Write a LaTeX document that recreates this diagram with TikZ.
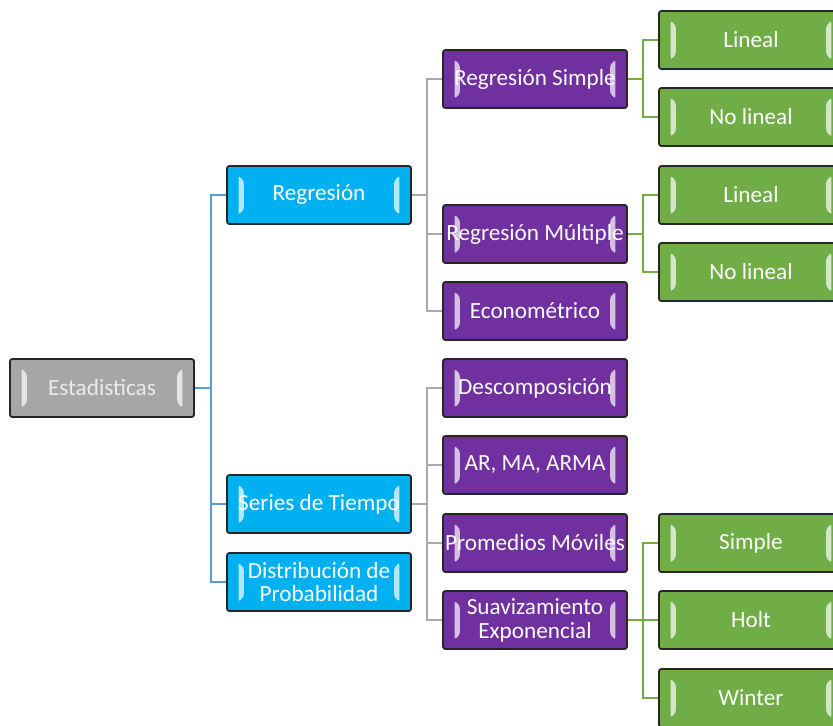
\documentclass[tikz,border=0pt]{standalone}
\usepackage{fontspec}
\setmainfont{Carlito}
\definecolor{rootgray}{RGB}{166,166,166}
\definecolor{catblue}{RGB}{0,176,240}
\definecolor{methpurple}{RGB}{112,48,160}
\definecolor{leafgreen}{RGB}{112,173,71}
\definecolor{linkblue}{RGB}{91,155,213}
\definecolor{linkgray}{RGB}{170,170,170}
\tikzset{
  box/.style={draw=black!85, line width=0.45mm, rounded corners=0.6mm,
    minimum width=46mm, minimum height=14.5mm, inner sep=0pt,
    align=center, text=white, font=\fontsize{16.5}{17}\selectfont,
    path picture={
      \fill[white, opacity=0.7]
        ([shift={(2.9mm,-2.4mm)}]path picture bounding box.north west)
        -- ++(1.3mm,-1.3mm)
        -- ([shift={(4.2mm,3.6mm)}]path picture bounding box.south west)
        -- ++(-1.3mm,-1.3mm) -- cycle;
      \fill[white, opacity=0.7]
        ([shift={(-2.9mm,-2.4mm)}]path picture bounding box.north east)
        -- ++(-1.3mm,-1.3mm)
        -- ([shift={(-4.2mm,3.6mm)}]path picture bounding box.south east)
        -- ++(1.3mm,-1.3mm) -- cycle;
    }},
  rootbox/.style={box, fill=rootgray, text=white!92!black},
  catbox/.style={box, fill=catblue},
  methbox/.style={box, fill=methpurple},
  leafbox/.style={box, fill=leafgreen},
  link/.style={line width=0.65mm},
}
\begin{document}
\begin{tikzpicture}[x=0.25mm,y=-0.25mm]
  \clip (0,0) rectangle (833,725);
  \path
    (102,388) node[rootbox] (est) {Estadisticas}
    (319,195) node[catbox] (reg) {Regresión}
    (319,504) node[catbox] (ser) {Series de Tiempo}
    (319,582) node[catbox] (dis) {Distribución de\\Probabilidad}
    (535,79) node[methbox] (rs) {Regresión Simple}
    (535,234) node[methbox] (rm) {Regresión Múltiple}
    (535,311) node[methbox] (eco) {Econométrico}
    (535,388) node[methbox] (des) {Descomposición}
    (535,465) node[methbox] (arma) {AR, MA, ARMA}
    (535,543) node[methbox] (pm) {Promedios Móviles}
    (535,620) node[methbox] (sua) {Suavizamiento\\Exponencial}
    (751,40) node[leafbox] (lin1) {Lineal}
    (751,117) node[leafbox] (nolin1) {No lineal}
    (751,195) node[leafbox] (lin2) {Lineal}
    (751,272) node[leafbox] (nolin2) {No lineal}
    (751,543) node[leafbox] (simple) {Simple}
    (751,620) node[leafbox] (holt) {Holt}
    (751,698) node[leafbox] (winter) {Winter};
  % junctions
  \coordinate (estj) at (211,388);
  \coordinate (regj) at (427,195);
  \coordinate (serj) at (427,504);
  \coordinate (rsj) at (643,79);
  \coordinate (rmj) at (643,234);
  \coordinate (suaj) at (643,620);
  \begin{scope}[link, draw=linkblue]
    \draw (est.east) -- (estj);
    \draw (estj) |- (reg.west);
    \draw (estj) |- (ser.west);
    \draw (estj) |- (dis.west);
  \end{scope}
  \begin{scope}[link, draw=linkgray]
    \draw (reg.east) -- (regj);
    \draw (regj) |- (rs.west);
    \draw (regj) |- (rm.west);
    \draw (regj) |- (eco.west);
    \draw (ser.east) -- (serj);
    \draw (serj) |- (des.west);
    \draw (serj) |- (arma.west);
    \draw (serj) |- (pm.west);
    \draw (serj) |- (sua.west);
  \end{scope}
  \begin{scope}[link, draw=leafgreen]
    \draw (rs.east) -- (rsj);
    \draw (rsj) |- (lin1.west);
    \draw (rsj) |- (nolin1.west);
    \draw (rm.east) -- (rmj);
    \draw (rmj) |- (lin2.west);
    \draw (rmj) |- (nolin2.west);
    \draw (sua.east) -- (suaj);
    \draw (suaj) |- (simple.west);
    \draw (suaj) |- (holt.west);
    \draw (suaj) |- (winter.west);
  \end{scope}
\end{tikzpicture}
\end{document}
